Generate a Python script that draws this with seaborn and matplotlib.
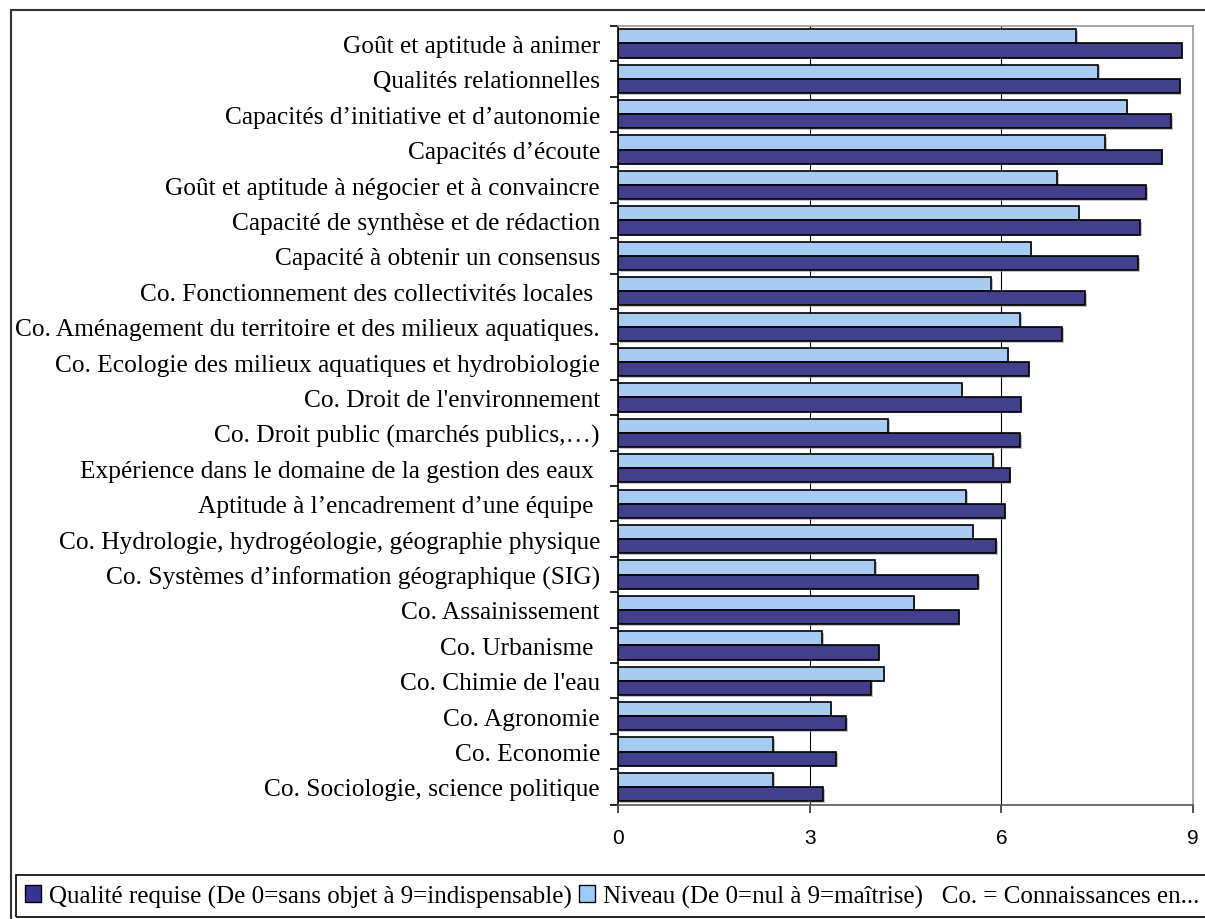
import pandas as pd
import seaborn as sns
import matplotlib.pyplot as plt
import matplotlib.patheffects as pe
from matplotlib.patches import Patch, Rectangle
from matplotlib.ticker import FixedLocator

criteres = [
    "Goût et aptitude à animer",
    "Qualités relationnelles",
    "Capacités d’initiative et d’autonomie",
    "Capacités d’écoute",
    "Goût et aptitude à négocier et à convaincre",
    "Capacité de synthèse et de rédaction",
    "Capacité à obtenir un consensus",
    "Co. Fonctionnement des collectivités locales ",
    "Co. Aménagement du territoire et des milieux aquatiques.",
    "Co. Ecologie des milieux aquatiques et hydrobiologie",
    "Co. Droit de l'environnement",
    "Co. Droit public (marchés publics,…)",
    "Expérience dans le domaine de la gestion des eaux ",
    "Aptitude à l’encadrement d’une équipe ",
    "Co. Hydrologie, hydrogéologie, géographie physique",
    "Co. Systèmes d’information géographique (SIG)",
    "Co. Assainissement",
    "Co. Urbanisme ",
    "Co. Chimie de l'eau",
    "Co. Agronomie",
    "Co. Economie",
    "Co. Sociologie, science politique",
]
qualite = [8.82, 8.79, 8.66, 8.51, 8.27, 8.17, 8.14, 7.31, 6.95, 6.43, 6.30,
           6.29, 6.13, 6.05, 5.92, 5.64, 5.33, 4.08, 3.96, 3.57, 3.41, 3.21]
niveau = [7.17, 7.52, 7.96, 7.62, 6.87, 7.21, 6.46, 5.84, 6.29, 6.10, 5.38,
          4.23, 5.87, 5.45, 5.55, 4.03, 4.63, 3.20, 4.16, 3.33, 2.43, 2.43]

lab_qualite = "Qualité requise (De 0=sans objet à 9=indispensable)"
lab_niveau = "Niveau (De 0=nul à 9=maîtrise)"

df = pd.DataFrame({
    "critere": criteres * 2,
    "valeur": niveau + qualite,
    "serie": [lab_niveau] * len(criteres) + [lab_qualite] * len(criteres),
})

fonce = "#333399"
clair = "#99CCFF"

fig = plt.figure(figsize=(12.05, 9.2), dpi=100)
ax = fig.add_axes([618 / 1205, 1 - 805.7 / 920, 575 / 1205, (805.7 - 26.7) / 920])

sns.barplot(data=df, y="critere", x="valeur", hue="serie", orient="h",
            hue_order=[lab_niveau, lab_qualite], palette=[clair, fonce],
            edgecolor="black", linewidth=1.2, width=0.8, ax=ax, legend=False)

for b in ax.patches:
    b.set_path_effects([pe.SimplePatchShadow(offset=(1.2, -1.2), shadow_rgbFace="#999999", alpha=0.6), pe.Normal()])

n = len(criteres)
ax.set_xlim(0, 9)
ax.set_ylim(n - 0.5, -0.5)
ax.set_xticks([0, 3, 6, 9])
ax.set_xlabel("")
ax.set_ylabel("")
for v in [3, 6]:
    ax.axvline(v, color="black", lw=0.8, zorder=0)

ax.yaxis.set_minor_locator(FixedLocator([i - 0.5 for i in range(n + 1)]))
ax.tick_params(axis="y", which="major", length=0, pad=13,
               labelsize=18.3, labelfontfamily="Liberation Serif")
ax.tick_params(axis="y", which="minor", length=6, width=1.2, color="black", direction="out")
ax.tick_params(axis="x", length=6, width=1.2, color="#333333", direction="out", pad=11,
               labelsize=15, labelfontfamily="Liberation Sans")

ax.spines["left"].set_color("black")
ax.spines["bottom"].set_color("#555555")
ax.spines["right"].set_color("#999999")
ax.spines["top"].set_color("#999999")
for s in ax.spines.values():
    s.set_linewidth(1.2)

# cadre du graphique et cadre de la légende
fig.patches.append(Rectangle((10.5 / 1205, -0.02), 1.05, 0.02 + 1 - 10.7 / 920,
                             transform=fig.transFigure, fill=False, ec="#333333", lw=1.5))
fig.patches.append(Rectangle((16 / 1205, 1 - 917.7 / 920), 1.05, 42 / 920,
                             transform=fig.transFigure, fill=False, ec="black", lw=1.2))

handles = [Patch(facecolor=fonce, edgecolor="black", lw=1),
           Patch(facecolor=clair, edgecolor="black", lw=1)]
fig.legend(handles, [lab_qualite, lab_niveau + "   Co. = Connaissances en..."],
           loc="center left", bbox_to_anchor=(25 / 1205, 1 - 897 / 920), ncol=2,
           frameon=False, handlelength=0.65, handleheight=0.65, handletextpad=0.3,
           columnspacing=0.3, borderaxespad=0, borderpad=0,
           prop={"family": "Liberation Serif", "size": 18.0})

fig.savefig("out.png", dpi=100)
